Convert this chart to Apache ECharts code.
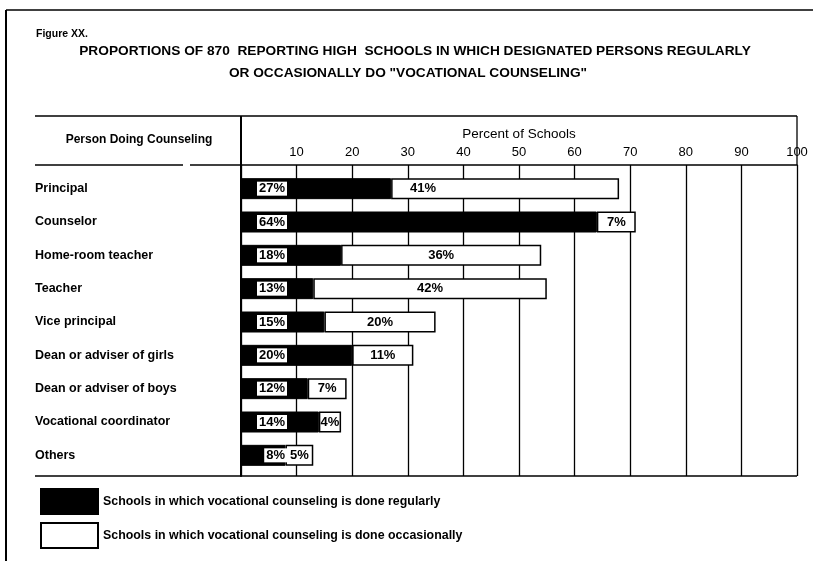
<!DOCTYPE html>
<html>
<head>
<meta charset="utf-8">
<script src="https://cdn.jsdelivr.net/npm/echarts@6/dist/echarts.min.js"></script>
<style>
  html, body { margin: 0; background: #fff; }
  #chart { width: 813px; height: 561px; }
</style>
</head>
<body>
<div id="chart"></div>
<script>
  // persons who do the counseling, top to bottom
  const persons = ['Principal', 'Counselor', 'Home-room teacher', 'Teacher', 'Vice principal',
    'Dean or adviser of girls', 'Dean or adviser of boys', 'Vocational coordinator', 'Others'];
  // percent of schools, regularly / occasionally
  const regular = [27, 64, 18, 13, 15, 20, 12, 14, 8];
  const occasional = [41, 7, 36, 42, 20, 11, 7, 4, 5];
  const seriesNames = ['Schools in which vocational counseling is done regularly',
    'Schools in which vocational counseling is done occasionally'];

  const FONT = '"Liberation Sans", Arial, sans-serif';
  const chart = echarts.init(document.getElementById('chart'));

  function line(x1, y1, x2, y2, w) {
    return { type: 'line', shape: { x1: x1, y1: y1, x2: x2, y2: y2 }, style: { stroke: '#000', lineWidth: w || 1.3 } };
  }
  function text(str, x, y, font, align) {
    return { type: 'text', x: x, y: y,
      style: { text: str, fill: '#000', align: align || 'center', verticalAlign: 'middle', font: font + ' ' + FONT } };
  }

  // the first occasional label sits left in its long bar
  const occData = occasional.map(function (v, i) {
    if (i === 0) return { value: v, label: { position: 'insideLeft', distance: 19 } };
    return v;
  });

  const option = {
    backgroundColor: '#fff',
    animation: false,
    textStyle: { fontFamily: FONT },
    legend: {
      data: seriesNames,
      orient: 'vertical',
      left: 35,
      top: 483,
      icon: 'rect',
      itemWidth: 57,
      itemHeight: 25,
      itemGap: 7,
      textStyle: { fontSize: 12.4, fontWeight: 'bold', color: '#000', fontFamily: FONT }
    },
    grid: [
      { left: 241, right: 16, top: 165, bottom: 85 },
      { left: 241, right: 16, top: 172, bottom: 89 }
    ],
    xAxis: [
      {
        gridIndex: 0, type: 'value', position: 'top', min: 0, max: 100, interval: 10,
        name: 'Percent of Schools', nameLocation: 'middle', nameGap: 21,
        nameTextStyle: { fontSize: 13.5, color: '#000' },
        axisLine: { show: true, lineStyle: { color: '#000', width: 1.5 } },
        axisTick: { show: false },
        axisLabel: { margin: 6, fontSize: 13, color: '#000',
          formatter: function (v) { return v === 0 ? '' : v; } },
        splitLine: { show: true, lineStyle: { color: '#000', width: 1.3 } }
      },
      { gridIndex: 1, type: 'value', min: 0, max: 100, show: false }
    ],
    yAxis: [
      {
        gridIndex: 0, type: 'category', data: persons, inverse: true,
        axisLine: { show: true, lineStyle: { color: '#000', width: 2 } },
        axisTick: { show: false }, axisLabel: { show: false }, splitLine: { show: false }
      },
      {
        gridIndex: 1, type: 'category', data: persons, inverse: true,
        axisLine: { show: false }, axisTick: { show: false },
        axisLabel: { margin: 206, align: 'left', fontSize: 12.5, fontWeight: 'bold', color: '#000' }
      }
    ],
    series: [
      {
        name: seriesNames[0], type: 'bar', stack: 'all', xAxisIndex: 1, yAxisIndex: 1,
        barWidth: 21, data: regular,
        itemStyle: { color: '#000', borderColor: '#000', borderWidth: 1 },
        label: {
          show: true, position: [46, '50%'], align: 'right', verticalAlign: 'middle',
          formatter: '{c}%', color: '#000', backgroundColor: '#fff', padding: [1, 2, 0, 2],
          fontSize: 13, fontWeight: 'bold'
        }
      },
      {
        name: seriesNames[1], type: 'bar', stack: 'all', xAxisIndex: 1, yAxisIndex: 1,
        barWidth: 21, data: occData,
        itemStyle: { color: '#fff', borderColor: '#000', borderWidth: 1.5 },
        label: { show: true, position: 'inside', formatter: '{c}%', color: '#000', fontSize: 13, fontWeight: 'bold' }
      }
    ],
    graphic: [
      line(6, 10, 813, 10, 1.5),
      line(6, 10, 6, 561, 2),
      line(35, 116, 797, 116),
      line(241, 116, 241, 165, 2),
      line(797, 116, 797, 165),
      line(35, 165, 183, 165),
      line(190, 165, 241, 165),
      line(35, 476, 797, 476, 1.5),
      text('Figure XX.', 36, 34, 'bold 10.5px', 'left'),
      text('PROPORTIONS OF 870  REPORTING HIGH  SCHOOLS IN WHICH DESIGNATED PERSONS REGULARLY', 415, 51, 'bold 13.7px'),
      text('OR OCCASIONALLY DO "VOCATIONAL COUNSELING"', 408, 73, 'bold 13.7px'),
      text('Person Doing Counseling', 139, 140, 'bold 12px')
    ]
  };

  chart.setOption(option);
  window.addEventListener('resize', function () {
    chart.resize();
  });
</script>
</body>
</html>
